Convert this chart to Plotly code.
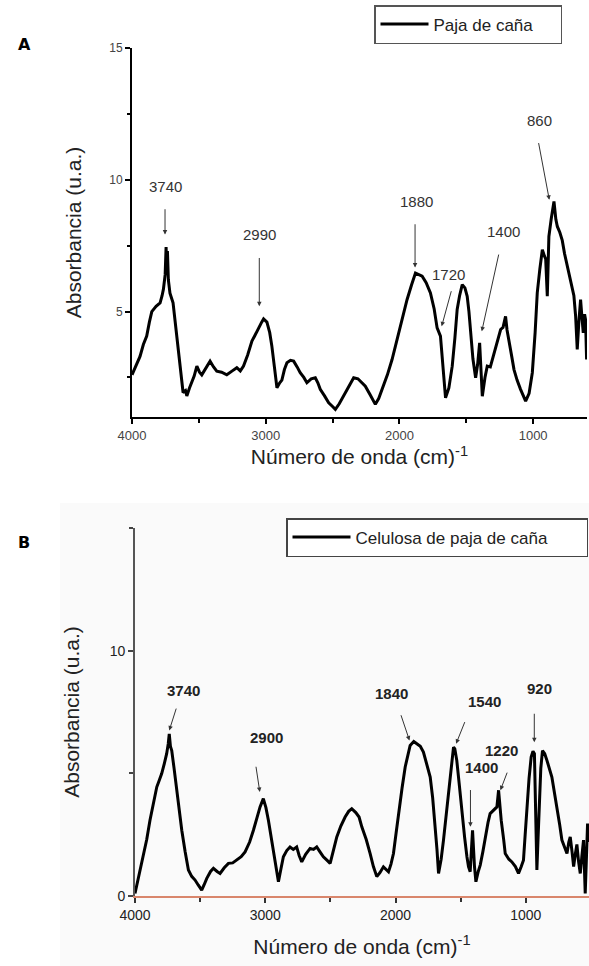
import plotly.graph_objects as go

# ---------------- Panel A data: Paja de caña ----------------
a_wavenumber = [4000, 3970, 3940, 3915, 3890, 3870, 3852, 3820, 3790, 3775, 3765, 3752, 3745, 3740, 3735, 3728,
                3716, 3693, 3675, 3655, 3635, 3618, 3600, 3590, 3570, 3553, 3535, 3515, 3495, 3478, 3450, 3416,
                3390, 3366, 3330, 3291, 3250, 3216, 3190, 3166, 3135, 3103, 3080, 3054, 3030, 3016, 2991, 2970,
                2954, 2935, 2916, 2895, 2879, 2860, 2841, 2815, 2791, 2765, 2742, 2715, 2692, 2660, 2629, 2610,
                2592, 2560, 2529, 2500, 2479, 2450, 2417, 2380, 2342, 2310, 2292, 2270, 2255, 2220, 2180, 2155,
                2130, 2090, 2055, 2030, 2005, 1975, 1943, 1910, 1880, 1855, 1830, 1800, 1768, 1740, 1718, 1693,
                1675, 1655, 1630, 1605, 1585, 1568, 1550, 1530, 1510, 1493, 1480, 1468, 1450, 1430, 1415, 1400,
                1390, 1380, 1360, 1343, 1320, 1293, 1265, 1243, 1225, 1206, 1195, 1181, 1160, 1143, 1120, 1094,
                1075, 1056, 1030, 1006, 985, 969, 950, 931, 915, 906, 894, 882, 865, 850, 844, 830,
                819, 800, 782, 765, 744, 725, 707, 695, 682, 670, 658, 645, 635, 625, 615, 608, 600]
a_absorbance = [2.6, 2.95, 3.3, 3.75, 4.07, 4.6, 5.0, 5.2, 5.33, 5.6, 5.85, 6.4, 7.45, 6.6, 7.3, 6.2,
                5.7, 5.33, 4.5, 3.56, 2.7, 1.93, 2.0, 1.8, 2.1, 2.3, 2.55, 2.93, 2.7, 2.6, 2.85, 3.12,
                2.9, 2.74, 2.7, 2.6, 2.75, 2.87, 2.75, 2.93, 3.35, 3.88, 4.1, 4.38, 4.6, 4.72, 4.6, 4.2,
                3.69, 2.9, 2.11, 2.3, 2.4, 2.8, 3.06, 3.15, 3.12, 2.9, 2.68, 2.5, 2.3, 2.45, 2.49, 2.3,
                2.05, 1.8, 1.54, 1.4, 1.29, 1.5, 1.79, 2.15, 2.49, 2.45, 2.36, 2.25, 2.17, 1.85, 1.48, 1.7,
                2.05, 2.6, 3.18, 3.7, 4.19, 4.8, 5.45, 6.0, 6.46, 6.4, 6.34, 6.1, 5.71, 5.1, 4.38, 4.07,
                3.0, 1.73, 2.1, 2.93, 4.0, 5.08, 5.6, 6.02, 5.9, 5.58, 5.0, 4.19, 3.2, 2.49, 3.0, 3.81,
                2.7, 1.79, 2.5, 2.93, 2.9, 3.43, 3.9, 4.32, 4.4, 4.82, 4.3, 3.94, 3.3, 2.8, 2.4, 2.05,
                1.8, 1.6, 1.9, 2.68, 4.2, 5.71, 6.6, 7.35, 7.1, 7.0, 5.58, 7.85, 8.5, 9.0, 9.18, 8.5,
                8.23, 8.0, 7.7, 7.2, 6.72, 6.3, 5.96, 5.6, 4.82, 3.56, 4.6, 5.45, 4.8, 4.19, 4.9, 4.7, 3.18]

# ---------------- Panel B data: Celulosa de paja de caña ----------------
b_wavenumber = [4000, 3970, 3936, 3910, 3885, 3860, 3833, 3815, 3795, 3775, 3757, 3745, 3737, 3728, 3718, 3700,
                3680, 3660, 3641, 3615, 3590, 3565, 3539, 3515, 3488, 3470, 3449, 3420, 3398, 3370, 3347, 3315,
                3283, 3250, 3219, 3185, 3155, 3120, 3091, 3065, 3040, 3015, 2995, 2976, 2955, 2938, 2915, 2899,
                2880, 2861, 2835, 2810, 2785, 2759, 2740, 2720, 2690, 2656, 2630, 2605, 2580, 2554, 2525, 2502,
                2475, 2451, 2420, 2387, 2360, 2336, 2305, 2280, 2259, 2225, 2195, 2170, 2144, 2120, 2093, 2070,
                2054, 2035, 2016, 1995, 1978, 1950, 1926, 1905, 1888, 1860, 1837, 1810, 1786, 1760, 1734, 1715,
                1696, 1682, 1670, 1650, 1632, 1612, 1594, 1575, 1555, 1545, 1530, 1510, 1491, 1470, 1452, 1440,
                1427, 1409, 1394, 1383, 1365, 1350, 1330, 1312, 1290, 1274, 1245, 1222, 1209, 1189, 1170, 1158,
                1130, 1107, 1080, 1056, 1035, 1018, 1005, 992, 975, 959, 945, 934, 925, 915, 905, 897,
                885, 872, 855, 838, 820, 800, 780, 761, 740, 723, 700, 684, 670, 659, 645, 633,
                620, 608, 595, 582, 570, 557, 544, 535, 526, 515]
b_absorbance = [0.1, 0.8, 1.6, 2.3, 3.09, 3.8, 4.44, 4.7, 4.99, 5.4, 5.8, 6.2, 6.61, 6.1, 5.93, 5.2,
                4.31, 3.5, 2.68, 1.8, 1.06, 0.8, 0.65, 0.45, 0.24, 0.45, 0.72, 1.0, 1.13, 1.0, 0.92, 1.15,
                1.33, 1.35, 1.46, 1.6, 1.8, 2.2, 2.68, 3.2, 3.63, 3.97, 3.6, 3.09, 2.4, 1.73, 1.0, 0.58,
                1.1, 1.6, 1.85, 2.0, 1.9, 2.0, 1.65, 1.39, 1.7, 1.94, 1.9, 2.0, 1.8, 1.6, 1.45, 1.33,
                1.9, 2.41, 2.85, 3.22, 3.45, 3.56, 3.4, 3.22, 2.82, 2.3, 1.73, 1.2, 0.79, 0.95, 1.19, 1.05,
                0.99, 1.3, 1.73, 2.6, 3.36, 4.4, 5.26, 5.8, 6.14, 6.3, 6.21, 6.1, 5.87, 5.4, 4.85, 4.0,
                2.95, 1.9, 0.92, 1.5, 2.28, 3.3, 4.31, 5.2, 6.07, 6.0, 5.53, 4.5, 3.36, 2.4, 1.6, 1.2,
                0.99, 2.68, 1.2, 0.58, 1.0, 1.26, 1.8, 2.41, 3.0, 3.36, 3.5, 3.63, 4.31, 3.09, 2.3, 1.73,
                1.5, 1.39, 1.2, 0.92, 1.2, 1.46, 2.5, 3.63, 4.8, 5.66, 5.9, 5.8, 4.0, 1.06, 2.5, 3.6,
                5.2, 5.93, 5.8, 5.53, 5.2, 4.85, 4.2, 3.63, 2.9, 2.28, 2.0, 1.73, 2.2, 2.41, 1.8, 1.2,
                1.7, 2.1, 1.4, 0.92, 1.6, 2.28, 0.1, 1.5, 2.95, 2.2]

# ---------------- Peak annotations (data coordinates) ----------------
a_peak_text = ["3740", "2990", "1880", "1720", "1400", "860"]
a_label_x = [3753, 3043, 1871, 1634, 1225, 954]
a_label_y = [9.75, 7.92, 9.18, 6.4, 8.04, 12.25]
a_tail_x = [3753, 3048, 1883, 1609, 1255, 961]
a_tail_y = [8.94, 7.09, 8.37, 5.83, 7.22, 11.45]
a_head_x = [3753, 3048, 1883, 1684, 1384, 879]
a_head_y = [7.92, 5.2, 6.67, 4.44, 4.25, 9.24]

b_peak_text = ["3740", "2900", "1840", "1540", "920", "1220", "1400"]
b_label_x = [3630, 2991, 2033, 1318, 897, 1190, 1343]
b_label_y = [8.37, 6.48, 8.24, 7.94, 8.44, 5.93, 5.23]
b_tail_x = [3680, 3073, 1962, 1464, 935, 1139, 1425]
b_tail_y = [7.7, 5.33, 7.43, 7.15, 7.49, 5.09, 4.38]
b_head_x = [3737, 3042, 1893, 1535, 935, 1195, 1425]
b_head_y = [6.75, 4.24, 6.34, 6.21, 6.27, 4.31, 2.82]

x_tickvals = [4000, 3000, 2000, 1000]
x_minor_tickvals = [3500, 2500, 1500]
a_y_tickvals = [5, 10, 15]
a_y_minor_tickvals = [2.5, 7.5, 12.5]
b_y_tickvals = [0, 10]
b_y_minor_tickvals = [5, 15]

W, H = 589, 966
FONT = "Liberation Sans, Arial, sans-serif"

fig = go.Figure()
fig.add_trace(go.Scatter(x=a_wavenumber, y=a_absorbance, mode="lines", name="Paja de caña",
                         line=dict(color="black", width=3), xaxis="x", yaxis="y", legend="legend"))
fig.add_trace(go.Scatter(x=b_wavenumber, y=b_absorbance, mode="lines", name="Celulosa de paja de caña",
                         line=dict(color="black", width=3), xaxis="x2", yaxis="y2", legend="legend2"))

xtitle = "Número de onda (cm)<sup>-1</sup>"
ytitle = "Absorbancia (u.a.)"

fig.update_layout(
    width=W, height=H, autosize=False,
    margin=dict(l=0, r=0, t=0, b=0, pad=0),
    paper_bgcolor="white", plot_bgcolor="rgba(0,0,0,0)",
    font=dict(family=FONT, color="#222"),
    xaxis=dict(domain=[132 / W, 587 / W], range=[4000, 597], anchor="y", automargin=False,
               tickmode="array", tickvals=x_tickvals, ticks="outside", ticklen=5, tickwidth=1.5,
               tickcolor="black", showline=True, linecolor="black", linewidth=2, showgrid=False,
               zeroline=False, tickfont=dict(size=13, color="#444"),
               minor=dict(tickvals=x_minor_tickvals, ticks="outside", ticklen=4, tickcolor="black"),
               title=dict(text=xtitle, font=dict(size=21, color="#222", family=FONT), standoff=8)),
    yaxis=dict(domain=[1 - 417 / H, 1 - 48 / H], range=[1, 15], anchor="x", automargin=False,
               tickmode="array", tickvals=a_y_tickvals, ticks="outside", ticklen=5, tickwidth=1.5,
               tickcolor="black", showline=True, linecolor="black", linewidth=2, showgrid=False,
               zeroline=False, tickfont=dict(size=12, color="#444"),
               minor=dict(tickvals=a_y_minor_tickvals, ticks="outside", ticklen=3, tickcolor="black"),
               title=dict(text=ytitle, font=dict(size=21, color="#222", family=FONT), standoff=22)),
    xaxis2=dict(domain=[135 / W, 1.0], range=[4000, 515], anchor="y2", automargin=False,
                tickmode="array", tickvals=x_tickvals, ticks="outside", ticklen=5, tickwidth=1.5,
                tickcolor="#333", showline=True, linecolor="#d9866c", linewidth=1.6, showgrid=False,
                zeroline=False, tickfont=dict(size=14, color="#222"),
                minor=dict(tickvals=x_minor_tickvals, ticks="outside", ticklen=4, tickcolor="#333"),
                title=dict(text=xtitle, font=dict(size=21, color="#222", family=FONT), standoff=18)),
    yaxis2=dict(domain=[1 - 896 / H, 1 - 528 / H], range=[0, 15], anchor="x2", automargin=False,
                tickmode="array", tickvals=b_y_tickvals, ticks="outside", ticklen=5, tickwidth=1.5,
                tickcolor="#444", showline=True, linecolor="#555", linewidth=1.6, showgrid=False,
                zeroline=False, tickfont=dict(size=14, color="#222"),
                minor=dict(tickvals=b_y_minor_tickvals, ticks="outside", ticklen=4, tickcolor="#444"),
                title=dict(text=ytitle, font=dict(size=21, color="#222", family=FONT), standoff=24)),
    legend=dict(x=374 / W, y=1 - 24.5 / H, xanchor="left", yanchor="middle", orientation="h",
                bordercolor="#555", borderwidth=1.5, bgcolor="white", itemwidth=48,
                font=dict(size=17, family=FONT, color="#222"), entrywidth=122, tracegroupgap=0),
    legend2=dict(x=286 / W, y=1 - 537.5 / H, xanchor="left", yanchor="middle", orientation="h",
                 bordercolor="#444", borderwidth=1.5, bgcolor="white", itemwidth=58,
                 font=dict(size=17, family=FONT, color="#222"), entrywidth=226, tracegroupgap=0),
    showlegend=True,
)

# faint background tint of panel B
fig.add_shape(type="rect", xref="paper", yref="paper", x0=60 / W, x1=1, y0=0, y1=1 - 503 / H,
              fillcolor="#fafafa", line=dict(width=0), layer="below")

annotations = []
for t, lx, ly, tx, ty, hx, hy in zip(a_peak_text, a_label_x, a_label_y, a_tail_x, a_tail_y, a_head_x, a_head_y):
    annotations.append(dict(x=lx, y=ly, xref="x", yref="y", text=t, showarrow=False,
                            font=dict(size=15, color="#333", family=FONT)))
    annotations.append(dict(x=hx, y=hy, ax=tx, ay=ty, xref="x", yref="y", axref="x", ayref="y",
                            text="", showarrow=True, arrowhead=2, arrowsize=0.9, arrowwidth=1,
                            arrowcolor="#333"))
for t, lx, ly, tx, ty, hx, hy in zip(b_peak_text, b_label_x, b_label_y, b_tail_x, b_tail_y, b_head_x, b_head_y):
    annotations.append(dict(x=lx, y=ly, xref="x2", yref="y2", text="<b>" + t + "</b>", showarrow=False,
                            font=dict(size=15, color="#222", family=FONT)))
    annotations.append(dict(x=hx, y=hy, ax=tx, ay=ty, xref="x2", yref="y2", axref="x2", ayref="y2",
                            text="", showarrow=True, arrowhead=2, arrowsize=0.9, arrowwidth=1,
                            arrowcolor="#333"))

annotations.append(dict(x=16 / W, y=1 - 33 / H, xref="paper", yref="paper", text="<b>A</b>",
                        showarrow=False, font=dict(size=16, family="DejaVu Sans", color="black")))
annotations.append(dict(x=16 / W, y=1 - 542 / H, xref="paper", yref="paper", text="<b>B</b>",
                        showarrow=False, font=dict(size=16, family="DejaVu Sans", color="black")))
fig.update_layout(annotations=annotations)

fig.write_html("out.html", config={"displayModeBar": False},
               post_script="document.body.style.margin='0';document.body.style.overflow='hidden';")
